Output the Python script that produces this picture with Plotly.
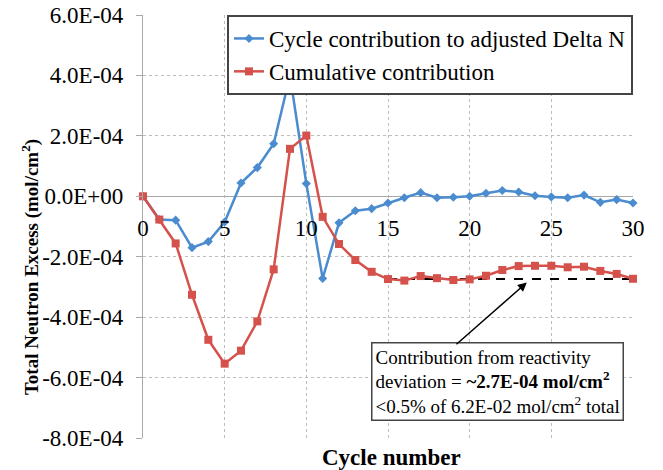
import plotly.graph_objects as go

# Cycle index and the two series (mol/cm^2)
cycles = list(range(31))
cycle_contribution = [
    0.0, -0.77e-4, -0.79e-4, -1.70e-4, -1.50e-4, -0.85e-4, 0.44e-4, 0.95e-4,
    1.74e-4, 3.99e-4, 0.42e-4, -2.72e-4, -0.88e-4, -0.48e-4, -0.41e-4, -0.22e-4,
    -0.05e-4, 0.12e-4, -0.05e-4, -0.03e-4, 0.0, 0.10e-4, 0.19e-4, 0.14e-4,
    0.02e-4, -0.02e-4, -0.05e-4, 0.04e-4, -0.20e-4, -0.11e-4, -0.22e-4,
]
cumulative_contribution = [
    0.0, -0.77e-4, -1.56e-4, -3.26e-4, -4.75e-4, -5.54e-4, -5.11e-4, -4.14e-4,
    -2.42e-4, 1.57e-4, 2.01e-4, -0.68e-4, -1.58e-4, -2.11e-4, -2.50e-4, -2.74e-4,
    -2.79e-4, -2.64e-4, -2.71e-4, -2.77e-4, -2.75e-4, -2.63e-4, -2.44e-4, -2.31e-4,
    -2.30e-4, -2.30e-4, -2.35e-4, -2.33e-4, -2.47e-4, -2.57e-4, -2.73e-4,
]

# Reactivity-deviation level shown as a dashed reference line
deviation_cycles = [15, 30]
deviation_level = -2.74e-4

y_tick_values = [-8e-4, -6e-4, -4e-4, -2e-4, 0.0, 2e-4, 4e-4, 6e-4]
y_tick_labels = ["-8.0E-04", "-6.0E-04", "-4.0E-04", "-2.0E-04",
                 "0.0E+00", "2.0E-04", "4.0E-04", "6.0E-04"]
x_tick_values = [0, 5, 10, 15, 20, 25, 30]

BLUE = "#4A8CCF"
RED = "#D5514B"
GRID = "#BDBDBD"
SERIF = "Liberation Serif"

fig = go.Figure()

fig.add_trace(go.Scatter(
    x=[deviation_cycles[0], deviation_cycles[1]],
    y=[deviation_level, deviation_level],
    mode="lines",
    line=dict(color="black", width=2, dash="dash"),
    showlegend=False,
    hoverinfo="skip",
))

fig.add_trace(go.Scatter(
    x=cycles, y=cycle_contribution,
    mode="lines+markers",
    name="Cycle contribution to adjusted Delta N",
    line=dict(color=BLUE, width=2.5),
    marker=dict(symbol="diamond", size=7, color=BLUE),
    cliponaxis=False,
))

fig.add_trace(go.Scatter(
    x=cycles, y=cumulative_contribution,
    mode="lines+markers",
    name="Cumulative contribution",
    line=dict(color=RED, width=2.5),
    marker=dict(symbol="square", size=8, color=RED),
    cliponaxis=False,
))

y_span = y_tick_values[-1] - y_tick_values[0]
zero_position = (0.0 - y_tick_values[0]) / y_span

fig.update_layout(
    width=663, height=470,
    margin=dict(l=143, r=30, t=15, b=32),
    paper_bgcolor="white",
    plot_bgcolor="white",
    font=dict(family=SERIF, color="black", size=23),
    showlegend=True,
    legend=dict(
        x=1, y=1, xanchor="right", yanchor="top",
        bgcolor="white", bordercolor="#444444", borderwidth=2,
        font=dict(family=SERIF, size=23, color="black"),
        itemwidth=30, tracegroupgap=0,
    ),
    xaxis=dict(
        range=[0, 30],
        tickvals=x_tick_values,
        showgrid=True, gridcolor=GRID, griddash="dot", gridwidth=1,
        zeroline=False, showline=False,
        anchor="free", position=zero_position,
        ticks="", ticklabelstandoff=16, automargin=False,
        tickfont=dict(family=SERIF, size=23, color="black"),
    ),
    yaxis=dict(
        range=[y_tick_values[0], y_tick_values[-1]],
        tickvals=y_tick_values, ticktext=y_tick_labels,
        showgrid=True, gridcolor=GRID, griddash="dot", gridwidth=1,
        zeroline=True, zerolinecolor="#A8A8A8", zerolinewidth=1.2,
        showline=True, linecolor="#A8A8A8", linewidth=1.2,
        ticks="outside", ticklen=6, tickcolor="#A8A8A8",
        ticklabelstandoff=8, automargin=False,
        tickfont=dict(family=SERIF, size=23, color="black"),
    ),
)

# Axis titles
fig.add_annotation(
    text="<b>Cycle number</b>", xref="paper", yref="paper",
    x=0.508, y=-0.045, xanchor="center", yanchor="middle",
    showarrow=False, font=dict(family=SERIF, size=23, color="black"),
)
fig.add_annotation(
    text="<b>Total Neutron Excess (mol/cm<sup>2</sup>)</b>",
    xref="paper", yref="paper", x=-0.2306, y=0.404,
    xanchor="center", yanchor="middle", textangle=-90,
    showarrow=False, font=dict(family=SERIF, size=19, color="black"),
)

# Callout box and its arrow to the dashed level
fig.add_annotation(
    text=("Contribution from reactivity<br>"
          "deviation = <b>~2.7E-04 mol/cm<sup>2</sup></b><br>"
          "&lt;0.5% of 6.2E-02 mol/cm<sup>2</sup> total"),
    xref="x", yref="y", x=21.7, y=-6.12e-4,
    xanchor="center", yanchor="middle", align="left",
    showarrow=False, bgcolor="white", bordercolor="#444444",
    borderwidth=1.5, borderpad=3,
    font=dict(family=SERIF, size=19, color="black"),
)
fig.add_annotation(
    x=23.5, y=-2.85e-4, ax=19.1, ay=-4.94e-4,
    xref="x", yref="y", axref="x", ayref="y",
    text="", showarrow=True, arrowhead=2, arrowsize=1.2,
    arrowwidth=1.5, arrowcolor="black",
)

fig.write_html("out.html")
